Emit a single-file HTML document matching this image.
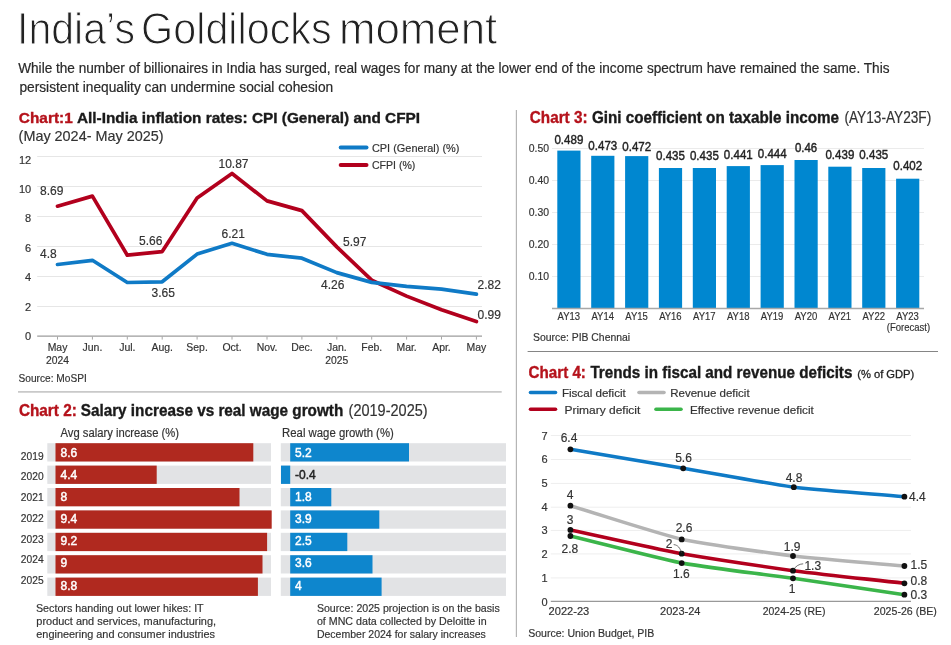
<!DOCTYPE html>
<html><head><meta charset="utf-8"><title>India's Goldilocks moment</title>
<style>
html,body{margin:0;padding:0;background:#fff;}
body{width:951px;height:645px;overflow:hidden;font-family:"Liberation Sans", sans-serif;}
svg{display:block;will-change:transform;font-family:"Liberation Sans", sans-serif;}
</style></head><body>
<svg width="951" height="645" viewBox="0 0 951 645">
<rect width="951" height="645" fill="#fff"/>
<text x="17.0" y="43.6" font-size="44.3" fill="#222" textLength="118.0" lengthAdjust="spacingAndGlyphs" stroke="#fff" stroke-width="1.1">India’s</text>
<text x="141.1" y="43.6" font-size="44.3" fill="#222" textLength="190.6" lengthAdjust="spacingAndGlyphs" stroke="#fff" stroke-width="1.1">Goldilocks</text>
<text x="338.9" y="43.6" font-size="44.3" fill="#222" textLength="158.4" lengthAdjust="spacingAndGlyphs" stroke="#fff" stroke-width="1.1">moment</text>
<text x="18.2" y="72.8" font-size="14" fill="#2a2a2a" textLength="871.3" lengthAdjust="spacingAndGlyphs" stroke="#2a2a2a" stroke-width="0.2">While the number of billionaires in India has surged, real wages for many at the lower end of the income spectrum have remained the same. This</text>
<text x="19.4" y="91.8" font-size="14" fill="#2a2a2a" textLength="313.8" lengthAdjust="spacingAndGlyphs" stroke="#2a2a2a" stroke-width="0.2">persistent inequality can undermine social cohesion</text>
<text x="18.8" y="122.7" font-size="15.3" font-weight="bold" fill="#b5121b" textLength="53.9" lengthAdjust="spacingAndGlyphs" stroke="#b5121b" stroke-width="0.35">Chart:1</text>
<text x="76.9" y="122.7" font-size="15.3" font-weight="bold" fill="#1a1a1a" textLength="343.2" lengthAdjust="spacingAndGlyphs" stroke="#1a1a1a" stroke-width="0.35">All-India inflation rates: CPI (General) and CFPI</text>
<text x="18.6" y="141.0" font-size="14.6" fill="#333" textLength="144.9" lengthAdjust="spacingAndGlyphs" stroke="#333" stroke-width="0.18">(May 2024- May 2025)</text>
<line x1="37.2" y1="306.5" x2="482.0" y2="306.5" stroke="#e6e6e6" stroke-width="1"/>
<line x1="37.2" y1="276.5" x2="482.0" y2="276.5" stroke="#e6e6e6" stroke-width="1"/>
<line x1="37.2" y1="246.5" x2="482.0" y2="246.5" stroke="#e6e6e6" stroke-width="1"/>
<line x1="37.2" y1="216.5" x2="482.0" y2="216.5" stroke="#e6e6e6" stroke-width="1"/>
<line x1="37.2" y1="186.5" x2="482.0" y2="186.5" stroke="#e6e6e6" stroke-width="1"/>
<line x1="37.2" y1="156.5" x2="482.0" y2="156.5" stroke="#e6e6e6" stroke-width="1"/>
<text x="31.2" y="340.1" font-size="11" fill="#333" text-anchor="end" stroke="#333" stroke-width="0.18">0</text>
<text x="31.2" y="310.7" font-size="11" fill="#333" text-anchor="end" stroke="#333" stroke-width="0.18">2</text>
<text x="31.2" y="281.2" font-size="11" fill="#333" text-anchor="end" stroke="#333" stroke-width="0.18">4</text>
<text x="31.2" y="251.8" font-size="11" fill="#333" text-anchor="end" stroke="#333" stroke-width="0.18">6</text>
<text x="31.2" y="222.4" font-size="11" fill="#333" text-anchor="end" stroke="#333" stroke-width="0.18">8</text>
<text x="31.2" y="193.0" font-size="11" fill="#333" text-anchor="end" stroke="#333" stroke-width="0.18">10</text>
<text x="31.2" y="163.5" font-size="11" fill="#333" text-anchor="end" stroke="#333" stroke-width="0.18">12</text>
<line x1="37.2" y1="336.0" x2="482.0" y2="336.0" stroke="#9c9c9c" stroke-width="1.25"/>
<line x1="57.5" y1="336.5" x2="57.5" y2="339.6" stroke="#a6a6a6" stroke-width="1"/>
<line x1="92.4" y1="336.5" x2="92.4" y2="339.6" stroke="#a6a6a6" stroke-width="1"/>
<line x1="127.3" y1="336.5" x2="127.3" y2="339.6" stroke="#a6a6a6" stroke-width="1"/>
<line x1="162.2" y1="336.5" x2="162.2" y2="339.6" stroke="#a6a6a6" stroke-width="1"/>
<line x1="197.1" y1="336.5" x2="197.1" y2="339.6" stroke="#a6a6a6" stroke-width="1"/>
<line x1="232.0" y1="336.5" x2="232.0" y2="339.6" stroke="#a6a6a6" stroke-width="1"/>
<line x1="267.0" y1="336.5" x2="267.0" y2="339.6" stroke="#a6a6a6" stroke-width="1"/>
<line x1="301.9" y1="336.5" x2="301.9" y2="339.6" stroke="#a6a6a6" stroke-width="1"/>
<line x1="336.8" y1="336.5" x2="336.8" y2="339.6" stroke="#a6a6a6" stroke-width="1"/>
<line x1="371.7" y1="336.5" x2="371.7" y2="339.6" stroke="#a6a6a6" stroke-width="1"/>
<line x1="406.6" y1="336.5" x2="406.6" y2="339.6" stroke="#a6a6a6" stroke-width="1"/>
<line x1="441.5" y1="336.5" x2="441.5" y2="339.6" stroke="#a6a6a6" stroke-width="1"/>
<line x1="476.4" y1="336.5" x2="476.4" y2="339.6" stroke="#a6a6a6" stroke-width="1"/>
<text x="57.5" y="350.5" font-size="11" fill="#333" text-anchor="middle" textLength="19.7" lengthAdjust="spacingAndGlyphs" stroke="#333" stroke-width="0.18">May</text>
<text x="92.4" y="350.5" font-size="11" fill="#333" text-anchor="middle" textLength="19.8" lengthAdjust="spacingAndGlyphs" stroke="#333" stroke-width="0.18">Jun.</text>
<text x="127.3" y="350.5" font-size="11" fill="#333" text-anchor="middle" textLength="16.3" lengthAdjust="spacingAndGlyphs" stroke="#333" stroke-width="0.18">Jul.</text>
<text x="162.2" y="350.5" font-size="11" fill="#333" text-anchor="middle" textLength="21.5" lengthAdjust="spacingAndGlyphs" stroke="#333" stroke-width="0.18">Aug.</text>
<text x="197.1" y="350.5" font-size="11" fill="#333" text-anchor="middle" textLength="21.5" lengthAdjust="spacingAndGlyphs" stroke="#333" stroke-width="0.18">Sep.</text>
<text x="232.0" y="350.5" font-size="11" fill="#333" text-anchor="middle" textLength="19.2" lengthAdjust="spacingAndGlyphs" stroke="#333" stroke-width="0.18">Oct.</text>
<text x="267.0" y="350.5" font-size="11" fill="#333" text-anchor="middle" textLength="20.7" lengthAdjust="spacingAndGlyphs" stroke="#333" stroke-width="0.18">Nov.</text>
<text x="301.9" y="350.5" font-size="11" fill="#333" text-anchor="middle" textLength="21.5" lengthAdjust="spacingAndGlyphs" stroke="#333" stroke-width="0.18">Dec.</text>
<text x="336.8" y="350.5" font-size="11" fill="#333" text-anchor="middle" textLength="19.8" lengthAdjust="spacingAndGlyphs" stroke="#333" stroke-width="0.18">Jan.</text>
<text x="371.7" y="350.5" font-size="11" fill="#333" text-anchor="middle" textLength="20.9" lengthAdjust="spacingAndGlyphs" stroke="#333" stroke-width="0.18">Feb.</text>
<text x="406.6" y="350.5" font-size="11" fill="#333" text-anchor="middle" textLength="20.3" lengthAdjust="spacingAndGlyphs" stroke="#333" stroke-width="0.18">Mar.</text>
<text x="441.5" y="350.5" font-size="11" fill="#333" text-anchor="middle" textLength="18.6" lengthAdjust="spacingAndGlyphs" stroke="#333" stroke-width="0.18">Apr.</text>
<text x="476.4" y="350.5" font-size="11" fill="#333" text-anchor="middle" textLength="19.7" lengthAdjust="spacingAndGlyphs" stroke="#333" stroke-width="0.18">May</text>
<text x="57.5" y="363.5" font-size="11" fill="#333" text-anchor="middle" textLength="23.0" lengthAdjust="spacingAndGlyphs" stroke="#333" stroke-width="0.18">2024</text>
<text x="336.8" y="363.5" font-size="11" fill="#333" text-anchor="middle" textLength="23.0" lengthAdjust="spacingAndGlyphs" stroke="#333" stroke-width="0.18">2025</text>
<polyline points="57.5,206.2 92.4,196.1 127.3,255.2 162.2,251.6 197.1,197.9 232.0,173.5 267.0,200.9 301.9,210.6 336.8,246.9 371.7,280.2 406.6,296.1 441.5,309.8 476.4,321.6" fill="none" stroke="#b2001d" stroke-width="3.7" stroke-linejoin="round" stroke-linecap="round"/>
<polyline points="57.5,264.5 92.4,260.3 127.3,282.5 162.2,281.8 197.1,254.1 232.0,243.3 267.0,254.3 301.9,258.2 336.8,272.6 371.7,282.4 406.6,286.4 441.5,289.1 476.4,294.2" fill="none" stroke="#0f7ac6" stroke-width="3.7" stroke-linejoin="round" stroke-linecap="round"/>
<text x="40.0" y="194.5" font-size="12" fill="#333" stroke="#333" stroke-width="0.18">8.69</text>
<text x="218.5" y="167.7" font-size="12" fill="#333" stroke="#333" stroke-width="0.18">10.87</text>
<text x="139.0" y="244.5" font-size="12" fill="#333" stroke="#333" stroke-width="0.18">5.66</text>
<text x="221.5" y="238.0" font-size="12" fill="#333" stroke="#333" stroke-width="0.18">6.21</text>
<text x="40.0" y="258.0" font-size="12" fill="#333" stroke="#333" stroke-width="0.18">4.8</text>
<text x="151.5" y="297.0" font-size="12" fill="#333" stroke="#333" stroke-width="0.18">3.65</text>
<text x="343.0" y="245.5" font-size="12" fill="#333" stroke="#333" stroke-width="0.18">5.97</text>
<text x="321.0" y="289.0" font-size="12" fill="#333" stroke="#333" stroke-width="0.18">4.26</text>
<text x="477.6" y="288.7" font-size="12" fill="#333" stroke="#333" stroke-width="0.18">2.82</text>
<text x="477.6" y="319.1" font-size="12" fill="#333" stroke="#333" stroke-width="0.18">0.99</text>
<line x1="340.7" y1="147.6" x2="366.5" y2="147.6" stroke="#0f7ac6" stroke-width="4" stroke-linecap="round"/>
<line x1="340.7" y1="165.0" x2="366.5" y2="165.0" stroke="#b2001d" stroke-width="4" stroke-linecap="round"/>
<text x="371.9" y="151.5" font-size="11.2" fill="#333" textLength="87.6" lengthAdjust="spacingAndGlyphs" stroke="#333" stroke-width="0.18">CPI (General) (%)</text>
<text x="371.9" y="168.8" font-size="11.2" fill="#333" textLength="43.5" lengthAdjust="spacingAndGlyphs" stroke="#333" stroke-width="0.18">CFPI (%)</text>
<text x="18.5" y="382.4" font-size="11" fill="#333" textLength="68.3" lengthAdjust="spacingAndGlyphs" stroke="#333" stroke-width="0.18">Source: MoSPI</text>
<line x1="18.0" y1="391.9" x2="501.7" y2="391.9" stroke="#c9c9c9" stroke-width="1.6"/>
<text x="18.9" y="415.8" font-size="16" font-weight="bold" fill="#b5121b" textLength="57.9" lengthAdjust="spacingAndGlyphs" stroke="#b5121b" stroke-width="0.35">Chart 2:</text>
<text x="80.7" y="415.8" font-size="16" font-weight="bold" fill="#1a1a1a" textLength="262.6" lengthAdjust="spacingAndGlyphs" stroke="#1a1a1a" stroke-width="0.35">Salary increase vs real wage growth</text>
<text x="348.6" y="415.8" font-size="15.6" fill="#333" textLength="79.0" lengthAdjust="spacingAndGlyphs" stroke="#333" stroke-width="0.18">(2019-2025)</text>
<text x="60.5" y="437.4" font-size="12" fill="#333" textLength="118.5" lengthAdjust="spacingAndGlyphs" stroke="#333" stroke-width="0.18">Avg salary increase (%)</text>
<text x="282.1" y="437.4" font-size="12" fill="#333" textLength="111.7" lengthAdjust="spacingAndGlyphs" stroke="#333" stroke-width="0.18">Real wage growth (%)</text>
<rect x="47.3" y="443.2" width="223.7" height="18.3" fill="#e2e3e5"/>
<rect x="55.5" y="443.2" width="197.8" height="18.3" fill="#b0291f"/>
<rect x="280.8" y="443.2" width="225.2" height="18.3" fill="#e2e3e5"/>
<rect x="290.2" y="443.2" width="118.8" height="18.3" fill="#0e86cd"/>
<text x="20.8" y="459.6" font-size="11" fill="#333" textLength="22.8" lengthAdjust="spacingAndGlyphs" stroke="#333" stroke-width="0.18">2019</text>
<text x="60.5" y="456.5" font-size="12" fill="#fff" stroke="#fff" stroke-width="0.45">8.6</text>
<text x="295.0" y="456.5" font-size="12" fill="#fff" stroke="#fff" stroke-width="0.45">5.2</text>
<rect x="47.3" y="465.6" width="223.7" height="18.3" fill="#e2e3e5"/>
<rect x="55.5" y="465.6" width="101.2" height="18.3" fill="#b0291f"/>
<rect x="280.8" y="465.6" width="225.2" height="18.3" fill="#e2e3e5"/>
<rect x="281.0" y="465.6" width="9.2" height="18.3" fill="#0e86cd"/>
<text x="20.8" y="480.3" font-size="11" fill="#333" textLength="22.8" lengthAdjust="spacingAndGlyphs" stroke="#333" stroke-width="0.18">2020</text>
<text x="60.5" y="478.7" font-size="12" fill="#fff" stroke="#fff" stroke-width="0.45">4.4</text>
<text x="295.0" y="478.7" font-size="12" fill="#222" stroke="#222" stroke-width="0.45">-0.4</text>
<rect x="47.3" y="488.0" width="223.7" height="18.3" fill="#e2e3e5"/>
<rect x="55.5" y="488.0" width="184.0" height="18.3" fill="#b0291f"/>
<rect x="280.8" y="488.0" width="225.2" height="18.3" fill="#e2e3e5"/>
<rect x="290.2" y="488.0" width="41.1" height="18.3" fill="#0e86cd"/>
<text x="20.8" y="501.1" font-size="11" fill="#333" textLength="22.8" lengthAdjust="spacingAndGlyphs" stroke="#333" stroke-width="0.18">2021</text>
<text x="60.5" y="500.9" font-size="12" fill="#fff" stroke="#fff" stroke-width="0.45">8</text>
<text x="295.0" y="500.9" font-size="12" fill="#fff" stroke="#fff" stroke-width="0.45">1.8</text>
<rect x="47.3" y="510.4" width="223.7" height="18.3" fill="#e2e3e5"/>
<rect x="55.5" y="510.4" width="216.2" height="18.3" fill="#b0291f"/>
<rect x="280.8" y="510.4" width="225.2" height="18.3" fill="#e2e3e5"/>
<rect x="290.2" y="510.4" width="89.1" height="18.3" fill="#0e86cd"/>
<text x="20.8" y="521.8" font-size="11" fill="#333" textLength="22.8" lengthAdjust="spacingAndGlyphs" stroke="#333" stroke-width="0.18">2022</text>
<text x="60.5" y="523.0" font-size="12" fill="#fff" stroke="#fff" stroke-width="0.45">9.4</text>
<text x="295.0" y="523.0" font-size="12" fill="#fff" stroke="#fff" stroke-width="0.45">3.9</text>
<rect x="47.3" y="532.8" width="223.7" height="18.3" fill="#e2e3e5"/>
<rect x="55.5" y="532.8" width="211.6" height="18.3" fill="#b0291f"/>
<rect x="280.8" y="532.8" width="225.2" height="18.3" fill="#e2e3e5"/>
<rect x="290.2" y="532.8" width="57.1" height="18.3" fill="#0e86cd"/>
<text x="20.8" y="542.5" font-size="11" fill="#333" textLength="22.8" lengthAdjust="spacingAndGlyphs" stroke="#333" stroke-width="0.18">2023</text>
<text x="60.5" y="545.2" font-size="12" fill="#fff" stroke="#fff" stroke-width="0.45">9.2</text>
<text x="295.0" y="545.2" font-size="12" fill="#fff" stroke="#fff" stroke-width="0.45">2.5</text>
<rect x="47.3" y="555.2" width="223.7" height="18.3" fill="#e2e3e5"/>
<rect x="55.5" y="555.2" width="207.0" height="18.3" fill="#b0291f"/>
<rect x="280.8" y="555.2" width="225.2" height="18.3" fill="#e2e3e5"/>
<rect x="290.2" y="555.2" width="82.3" height="18.3" fill="#0e86cd"/>
<text x="20.8" y="563.2" font-size="11" fill="#333" textLength="22.8" lengthAdjust="spacingAndGlyphs" stroke="#333" stroke-width="0.18">2024</text>
<text x="60.5" y="567.4" font-size="12" fill="#fff" stroke="#fff" stroke-width="0.45">9</text>
<text x="295.0" y="567.4" font-size="12" fill="#fff" stroke="#fff" stroke-width="0.45">3.6</text>
<rect x="47.3" y="577.6" width="223.7" height="18.3" fill="#e2e3e5"/>
<rect x="55.5" y="577.6" width="202.4" height="18.3" fill="#b0291f"/>
<rect x="280.8" y="577.6" width="225.2" height="18.3" fill="#e2e3e5"/>
<rect x="290.2" y="577.6" width="91.4" height="18.3" fill="#0e86cd"/>
<text x="20.8" y="584.0" font-size="11" fill="#333" textLength="22.8" lengthAdjust="spacingAndGlyphs" stroke="#333" stroke-width="0.18">2025</text>
<text x="60.5" y="589.6" font-size="12" fill="#fff" stroke="#fff" stroke-width="0.45">8.8</text>
<text x="295.0" y="589.6" font-size="12" fill="#fff" stroke="#fff" stroke-width="0.45">4</text>
<text x="35.9" y="612.1" font-size="11.3" fill="#333" textLength="167.8" lengthAdjust="spacingAndGlyphs" stroke="#333" stroke-width="0.18">Sectors handing out lower hikes: IT</text>
<text x="36.3" y="624.9" font-size="11.3" fill="#333" textLength="179.8" lengthAdjust="spacingAndGlyphs" stroke="#333" stroke-width="0.18">product and services, manufacturing,</text>
<text x="36.3" y="637.6" font-size="11.3" fill="#333" textLength="178.7" lengthAdjust="spacingAndGlyphs" stroke="#333" stroke-width="0.18">engineering and consumer industries</text>
<text x="316.9" y="612.1" font-size="11.3" fill="#333" textLength="182.8" lengthAdjust="spacingAndGlyphs" stroke="#333" stroke-width="0.18">Source: 2025 projection is on the basis</text>
<text x="316.9" y="624.9" font-size="11.3" fill="#333" textLength="169.7" lengthAdjust="spacingAndGlyphs" stroke="#333" stroke-width="0.18">of MNC data collected by Deloitte in</text>
<text x="316.9" y="637.6" font-size="11.3" fill="#333" textLength="168.9" lengthAdjust="spacingAndGlyphs" stroke="#333" stroke-width="0.18">December 2024 for salary increases</text>
<line x1="516.4" y1="110.0" x2="516.4" y2="637.0" stroke="#b5b5b5" stroke-width="1.2"/>
<text x="529.8" y="122.7" font-size="16" font-weight="bold" fill="#b5121b" textLength="57.7" lengthAdjust="spacingAndGlyphs" stroke="#b5121b" stroke-width="0.35">Chart 3:</text>
<text x="591.9" y="122.7" font-size="16" font-weight="bold" fill="#1a1a1a" textLength="247.1" lengthAdjust="spacingAndGlyphs" stroke="#1a1a1a" stroke-width="0.35">Gini coefficient on taxable income</text>
<text x="844.4" y="122.7" font-size="15.6" fill="#333" textLength="86.9" lengthAdjust="spacingAndGlyphs" stroke="#333" stroke-width="0.18">(AY13-AY23F)</text>
<line x1="552.0" y1="276.5" x2="924.0" y2="276.5" stroke="#ebebeb" stroke-width="1"/>
<text x="528.8" y="279.5" font-size="11" fill="#333" textLength="20.3" lengthAdjust="spacingAndGlyphs" stroke="#333" stroke-width="0.18">0.10</text>
<line x1="552.0" y1="244.5" x2="924.0" y2="244.5" stroke="#ebebeb" stroke-width="1"/>
<text x="528.8" y="247.5" font-size="11" fill="#333" textLength="20.3" lengthAdjust="spacingAndGlyphs" stroke="#333" stroke-width="0.18">0.20</text>
<line x1="552.0" y1="212.5" x2="924.0" y2="212.5" stroke="#ebebeb" stroke-width="1"/>
<text x="528.8" y="215.5" font-size="11" fill="#333" textLength="20.3" lengthAdjust="spacingAndGlyphs" stroke="#333" stroke-width="0.18">0.30</text>
<line x1="552.0" y1="180.5" x2="924.0" y2="180.5" stroke="#ebebeb" stroke-width="1"/>
<text x="528.8" y="183.5" font-size="11" fill="#333" textLength="20.3" lengthAdjust="spacingAndGlyphs" stroke="#333" stroke-width="0.18">0.40</text>
<line x1="552.0" y1="148.5" x2="924.0" y2="148.5" stroke="#ebebeb" stroke-width="1"/>
<text x="528.8" y="151.5" font-size="11" fill="#333" textLength="20.3" lengthAdjust="spacingAndGlyphs" stroke="#333" stroke-width="0.18">0.50</text>
<rect x="557.3" y="150.6" width="23.2" height="157.9" fill="#0087d0"/>
<text x="568.9" y="143.9" font-size="12" fill="#222" text-anchor="middle" textLength="28.9" lengthAdjust="spacingAndGlyphs" stroke="#222" stroke-width="0.4">0.489</text>
<text x="568.8" y="320.4" font-size="10.8" fill="#333" text-anchor="middle" textLength="22.5" lengthAdjust="spacingAndGlyphs" stroke="#333" stroke-width="0.18">AY13</text>
<rect x="591.2" y="155.8" width="23.2" height="152.7" fill="#0087d0"/>
<text x="602.8" y="150.1" font-size="12" fill="#222" text-anchor="middle" textLength="28.9" lengthAdjust="spacingAndGlyphs" stroke="#222" stroke-width="0.4">0.473</text>
<text x="602.7" y="320.4" font-size="10.8" fill="#333" text-anchor="middle" textLength="22.5" lengthAdjust="spacingAndGlyphs" stroke="#333" stroke-width="0.18">AY14</text>
<rect x="625.1" y="156.1" width="23.2" height="152.4" fill="#0087d0"/>
<text x="636.7" y="151.3" font-size="12" fill="#222" text-anchor="middle" textLength="28.9" lengthAdjust="spacingAndGlyphs" stroke="#222" stroke-width="0.4">0.472</text>
<text x="636.6" y="320.4" font-size="10.8" fill="#333" text-anchor="middle" textLength="22.5" lengthAdjust="spacingAndGlyphs" stroke="#333" stroke-width="0.18">AY15</text>
<rect x="658.9" y="168.0" width="23.2" height="140.5" fill="#0087d0"/>
<text x="670.5" y="159.8" font-size="12" fill="#222" text-anchor="middle" textLength="28.9" lengthAdjust="spacingAndGlyphs" stroke="#222" stroke-width="0.4">0.435</text>
<text x="670.4" y="320.4" font-size="10.8" fill="#333" text-anchor="middle" textLength="22.5" lengthAdjust="spacingAndGlyphs" stroke="#333" stroke-width="0.18">AY16</text>
<rect x="692.8" y="168.0" width="23.2" height="140.5" fill="#0087d0"/>
<text x="704.4" y="159.8" font-size="12" fill="#222" text-anchor="middle" textLength="28.9" lengthAdjust="spacingAndGlyphs" stroke="#222" stroke-width="0.4">0.435</text>
<text x="704.3" y="320.4" font-size="10.8" fill="#333" text-anchor="middle" textLength="22.5" lengthAdjust="spacingAndGlyphs" stroke="#333" stroke-width="0.18">AY17</text>
<rect x="726.7" y="166.1" width="23.2" height="142.4" fill="#0087d0"/>
<text x="738.3" y="158.6" font-size="12" fill="#222" text-anchor="middle" textLength="28.9" lengthAdjust="spacingAndGlyphs" stroke="#222" stroke-width="0.4">0.441</text>
<text x="738.2" y="320.4" font-size="10.8" fill="#333" text-anchor="middle" textLength="22.5" lengthAdjust="spacingAndGlyphs" stroke="#333" stroke-width="0.18">AY18</text>
<rect x="760.6" y="165.1" width="23.2" height="143.4" fill="#0087d0"/>
<text x="772.2" y="157.7" font-size="12" fill="#222" text-anchor="middle" textLength="28.9" lengthAdjust="spacingAndGlyphs" stroke="#222" stroke-width="0.4">0.444</text>
<text x="772.1" y="320.4" font-size="10.8" fill="#333" text-anchor="middle" textLength="22.5" lengthAdjust="spacingAndGlyphs" stroke="#333" stroke-width="0.18">AY19</text>
<rect x="794.5" y="160.0" width="23.2" height="148.5" fill="#0087d0"/>
<text x="806.1" y="152.3" font-size="12" fill="#222" text-anchor="middle" textLength="22.2" lengthAdjust="spacingAndGlyphs" stroke="#222" stroke-width="0.4">0.46</text>
<text x="806.0" y="320.4" font-size="10.8" fill="#333" text-anchor="middle" textLength="22.5" lengthAdjust="spacingAndGlyphs" stroke="#333" stroke-width="0.18">AY20</text>
<rect x="828.3" y="166.7" width="23.2" height="141.8" fill="#0087d0"/>
<text x="839.9" y="158.6" font-size="12" fill="#222" text-anchor="middle" textLength="28.9" lengthAdjust="spacingAndGlyphs" stroke="#222" stroke-width="0.4">0.439</text>
<text x="839.8" y="320.4" font-size="10.8" fill="#333" text-anchor="middle" textLength="22.5" lengthAdjust="spacingAndGlyphs" stroke="#333" stroke-width="0.18">AY21</text>
<rect x="862.2" y="168.0" width="23.2" height="140.5" fill="#0087d0"/>
<text x="873.8" y="158.6" font-size="12" fill="#222" text-anchor="middle" textLength="28.9" lengthAdjust="spacingAndGlyphs" stroke="#222" stroke-width="0.4">0.435</text>
<text x="873.7" y="320.4" font-size="10.8" fill="#333" text-anchor="middle" textLength="22.5" lengthAdjust="spacingAndGlyphs" stroke="#333" stroke-width="0.18">AY22</text>
<rect x="896.1" y="178.7" width="23.2" height="129.8" fill="#0087d0"/>
<text x="907.7" y="169.8" font-size="12" fill="#222" text-anchor="middle" textLength="28.9" lengthAdjust="spacingAndGlyphs" stroke="#222" stroke-width="0.4">0.402</text>
<text x="907.6" y="320.4" font-size="10.8" fill="#333" text-anchor="middle" textLength="22.5" lengthAdjust="spacingAndGlyphs" stroke="#333" stroke-width="0.18">AY23</text>
<line x1="552.0" y1="308.5" x2="924.0" y2="308.5" stroke="#a8a8a8" stroke-width="1.5"/>
<text x="886.8" y="331.1" font-size="10.6" fill="#333" textLength="43.3" lengthAdjust="spacingAndGlyphs" stroke="#333" stroke-width="0.18">(Forecast)</text>
<text x="533.0" y="341.3" font-size="11" fill="#333" textLength="97.1" lengthAdjust="spacingAndGlyphs" stroke="#333" stroke-width="0.18">Source: PIB Chennai</text>
<line x1="527.6" y1="351.5" x2="938.0" y2="351.5" stroke="#858585" stroke-width="1"/>
<text x="528.6" y="377.6" font-size="16" font-weight="bold" fill="#b5121b" textLength="57.3" lengthAdjust="spacingAndGlyphs" stroke="#b5121b" stroke-width="0.35">Chart 4:</text>
<text x="590.4" y="377.6" font-size="16" font-weight="bold" fill="#1a1a1a" textLength="262.0" lengthAdjust="spacingAndGlyphs" stroke="#1a1a1a" stroke-width="0.35">Trends in fiscal and revenue deficits</text>
<text x="857.2" y="377.5" font-size="11.6" fill="#222" textLength="57.1" lengthAdjust="spacingAndGlyphs" stroke="#222" stroke-width="0.3">(% of GDP)</text>
<line x1="530.5" y1="392.5" x2="555.5" y2="392.5" stroke="#0f7ac6" stroke-width="3.6" stroke-linecap="round"/>
<text x="561.9" y="397.1" font-size="11.5" fill="#333" textLength="63.9" lengthAdjust="spacingAndGlyphs" stroke="#333" stroke-width="0.18">Fiscal deficit</text>
<line x1="639.0" y1="392.5" x2="664.0" y2="392.5" stroke="#b4b4b4" stroke-width="3.6" stroke-linecap="round"/>
<text x="670.2" y="397.1" font-size="11.5" fill="#333" textLength="79.4" lengthAdjust="spacingAndGlyphs" stroke="#333" stroke-width="0.18">Revenue deficit</text>
<line x1="530.5" y1="409.2" x2="555.5" y2="409.2" stroke="#b2001d" stroke-width="3.6" stroke-linecap="round"/>
<text x="564.5" y="413.8" font-size="11.5" fill="#333" textLength="75.8" lengthAdjust="spacingAndGlyphs" stroke="#333" stroke-width="0.18">Primary deficit</text>
<line x1="656.0" y1="409.2" x2="681.0" y2="409.2" stroke="#3bb54a" stroke-width="3.6" stroke-linecap="round"/>
<text x="690.0" y="413.8" font-size="11.5" fill="#333" textLength="123.8" lengthAdjust="spacingAndGlyphs" stroke="#333" stroke-width="0.18">Effective revenue deficit</text>
<line x1="550.8" y1="577.9" x2="911.0" y2="577.9" stroke="#eeeeee" stroke-width="1"/>
<line x1="550.8" y1="553.9" x2="911.0" y2="553.9" stroke="#eeeeee" stroke-width="1"/>
<line x1="550.8" y1="530.4" x2="911.0" y2="530.4" stroke="#eeeeee" stroke-width="1"/>
<line x1="550.8" y1="507.2" x2="911.0" y2="507.2" stroke="#eeeeee" stroke-width="1"/>
<line x1="550.8" y1="483.4" x2="911.0" y2="483.4" stroke="#eeeeee" stroke-width="1"/>
<line x1="550.8" y1="459.5" x2="911.0" y2="459.5" stroke="#eeeeee" stroke-width="1"/>
<line x1="550.8" y1="435.5" x2="911.0" y2="435.5" stroke="#eeeeee" stroke-width="1"/>
<text x="547.5" y="605.5" font-size="11" fill="#333" text-anchor="end" stroke="#333" stroke-width="0.18">0</text>
<text x="547.5" y="581.8" font-size="11" fill="#333" text-anchor="end" stroke="#333" stroke-width="0.18">1</text>
<text x="547.5" y="558.1" font-size="11" fill="#333" text-anchor="end" stroke="#333" stroke-width="0.18">2</text>
<text x="547.5" y="534.3" font-size="11" fill="#333" text-anchor="end" stroke="#333" stroke-width="0.18">3</text>
<text x="547.5" y="510.6" font-size="11" fill="#333" text-anchor="end" stroke="#333" stroke-width="0.18">4</text>
<text x="547.5" y="486.9" font-size="11" fill="#333" text-anchor="end" stroke="#333" stroke-width="0.18">5</text>
<text x="547.5" y="463.2" font-size="11" fill="#333" text-anchor="end" stroke="#333" stroke-width="0.18">6</text>
<text x="547.5" y="439.5" font-size="11" fill="#333" text-anchor="end" stroke="#333" stroke-width="0.18">7</text>
<line x1="550.8" y1="601.4" x2="911.0" y2="601.4" stroke="#999" stroke-width="1.1"/>
<path d="M570.4,449.3 C608.0,455.6 645.6,461.9 683.2,468.3 C720.1,474.6 756.9,481.6 793.8,487.2 C830.7,491.1 867.5,493.6 904.4,496.7" fill="none" stroke="#0f7ac6" stroke-width="3.6" stroke-linecap="round"/>
<path d="M570.4,505.7 C607.5,517.0 644.6,529.5 681.7,539.4 C718.8,546.2 755.9,551.0 793.0,556.0 C830.1,559.9 867.3,562.7 904.4,566.0" fill="none" stroke="#b4b4b4" stroke-width="3.6" stroke-linecap="round"/>
<path d="M570.4,536.0 C607.5,545.0 644.6,555.0 681.7,563.1 C718.8,569.1 755.9,573.2 793.0,578.3 C830.1,583.7 867.3,589.2 904.4,594.7" fill="none" stroke="#3bb54a" stroke-width="3.6" stroke-linecap="round"/>
<path d="M570.4,529.9 C607.5,537.8 644.6,546.3 681.7,553.7 C718.8,559.9 755.9,565.4 793.0,570.7 C830.1,575.3 867.3,579.1 904.4,583.3" fill="none" stroke="#b2001d" stroke-width="3.6" stroke-linecap="round"/>
<circle cx="570.4" cy="449.3" r="2.9" fill="#111"/>
<circle cx="683.2" cy="468.3" r="2.9" fill="#111"/>
<circle cx="793.8" cy="487.2" r="2.9" fill="#111"/>
<circle cx="904.4" cy="496.7" r="2.9" fill="#111"/>
<circle cx="570.4" cy="505.7" r="2.9" fill="#111"/>
<circle cx="681.7" cy="539.4" r="2.9" fill="#111"/>
<circle cx="793.0" cy="556.0" r="2.9" fill="#111"/>
<circle cx="904.4" cy="566.0" r="2.9" fill="#111"/>
<circle cx="570.4" cy="536.0" r="2.9" fill="#111"/>
<circle cx="681.7" cy="563.1" r="2.9" fill="#111"/>
<circle cx="793.0" cy="578.3" r="2.9" fill="#111"/>
<circle cx="904.4" cy="594.7" r="2.9" fill="#111"/>
<circle cx="570.4" cy="529.9" r="2.9" fill="#111"/>
<circle cx="681.7" cy="553.7" r="2.9" fill="#111"/>
<circle cx="793.0" cy="570.7" r="2.9" fill="#111"/>
<circle cx="904.4" cy="583.3" r="2.9" fill="#111"/>
<text x="569.0" y="441.6" font-size="12" fill="#333" text-anchor="middle" stroke="#333" stroke-width="0.18">6.4</text>
<text x="683.5" y="461.9" font-size="12" fill="#333" text-anchor="middle" stroke="#333" stroke-width="0.18">5.6</text>
<text x="794.0" y="481.5" font-size="12" fill="#333" text-anchor="middle" stroke="#333" stroke-width="0.18">4.8</text>
<text x="909.0" y="500.6" font-size="12" fill="#333" stroke="#333" stroke-width="0.18">4.4</text>
<text x="570.0" y="499.4" font-size="12" fill="#333" text-anchor="middle" stroke="#333" stroke-width="0.18">4</text>
<text x="570.0" y="524.0" font-size="12" fill="#333" text-anchor="middle" stroke="#333" stroke-width="0.18">3</text>
<text x="569.8" y="552.7" font-size="12" fill="#333" text-anchor="middle" stroke="#333" stroke-width="0.18">2.8</text>
<text x="684.0" y="531.7" font-size="12" fill="#333" text-anchor="middle" stroke="#333" stroke-width="0.18">2.6</text>
<text x="669.0" y="547.5" font-size="12" fill="#333" text-anchor="middle" stroke="#333" stroke-width="0.18">2</text>
<text x="681.4" y="578.3" font-size="12" fill="#333" text-anchor="middle" stroke="#333" stroke-width="0.18">1.6</text>
<text x="792.2" y="550.8" font-size="12" fill="#333" text-anchor="middle" stroke="#333" stroke-width="0.18">1.9</text>
<text x="804.4" y="569.9" font-size="12" fill="#333" stroke="#333" stroke-width="0.18">1.3</text>
<text x="792.0" y="592.7" font-size="12" fill="#333" text-anchor="middle" stroke="#333" stroke-width="0.18">1</text>
<text x="910.6" y="569.4" font-size="12" fill="#333" stroke="#333" stroke-width="0.18">1.5</text>
<text x="910.6" y="585.0" font-size="12" fill="#333" stroke="#333" stroke-width="0.18">0.8</text>
<text x="910.6" y="598.6" font-size="12" fill="#333" stroke="#333" stroke-width="0.18">0.3</text>
<path d="M673.7,544.6 C678,545 680,548 681.7,553" fill="none" stroke="#333" stroke-width="0.7"/>
<path d="M793,570 C796,566 799,564 803.2,563.8" fill="none" stroke="#333" stroke-width="0.7"/>
<text x="548.6" y="615.3" font-size="11" fill="#333" textLength="40.7" lengthAdjust="spacingAndGlyphs" stroke="#333" stroke-width="0.18">2022-23</text>
<text x="660.0" y="615.3" font-size="11" fill="#333" textLength="40.5" lengthAdjust="spacingAndGlyphs" stroke="#333" stroke-width="0.18">2023-24</text>
<text x="762.7" y="615.3" font-size="11" fill="#333" textLength="62.8" lengthAdjust="spacingAndGlyphs" stroke="#333" stroke-width="0.18">2024-25 (RE)</text>
<text x="873.8" y="615.3" font-size="11" fill="#333" textLength="63.1" lengthAdjust="spacingAndGlyphs" stroke="#333" stroke-width="0.18">2025-26 (BE)</text>
<text x="528.2" y="636.9" font-size="11" fill="#333" textLength="126.1" lengthAdjust="spacingAndGlyphs" stroke="#333" stroke-width="0.18">Source: Union Budget, PIB</text>
</svg>
</body></html>
